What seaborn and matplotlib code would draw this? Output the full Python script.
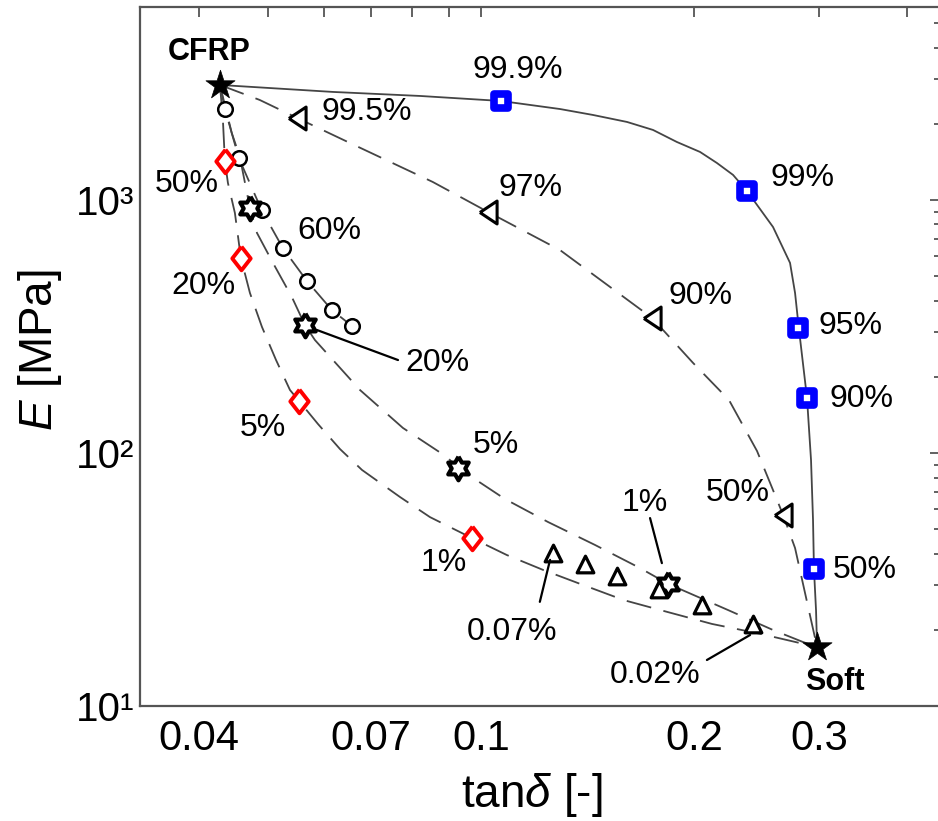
import numpy as np
import matplotlib
matplotlib.use("Agg")
import matplotlib.pyplot as plt
import seaborn as sns
from matplotlib.ticker import FixedLocator, NullLocator, LogLocator, FixedFormatter, NullFormatter

# ---------------- data ----------------
end_x = [0.0428, 0.2983]           # CFRP, Soft
end_y = [2848, 17.1]
end_lab = ["CFRP", "Soft"]

# solid curve with blue squares
solid_x = [0.0428, 0.0618, 0.0820, 0.1067, 0.1293, 0.1439, 0.1608, 0.1750, 0.1891,
           0.2039, 0.2154, 0.2270, 0.2375, 0.2585, 0.2732, 0.2777, 0.2810, 0.2887,
           0.2925, 0.2944, 0.2953, 0.2973, 0.2983]
solid_y = [2848, 2673, 2577, 2462, 2288, 2168, 2034, 1891, 1695,
           1548, 1400, 1256, 1085, 782, 564, 429, 315, 165,
           93.8, 54.4, 34.8, 23.9, 17.1]
sq_x = [0.1067, 0.2375, 0.2804, 0.2887, 0.2953]
sq_y = [2462, 1085, 312, 165, 34.8]
sq_lab = ["99.9%", "99%", "95%", "90%", "50%"]

# dashed curve with left triangles
ltri_cx = [0.0428, 0.0487, 0.0550, 0.0653, 0.0855, 0.1023, 0.1293, 0.1744, 0.1993,
           0.2240, 0.2454, 0.2602, 0.2671, 0.2777, 0.2887, 0.2983]
ltri_cy = [2848, 2485, 2110, 1680, 1178, 897, 634, 342, 227,
           162, 101.8, 68.2, 56.9, 42.1, 25.8, 17.1]
ltri_x = [0.0550, 0.1023, 0.1744, 0.2671]
ltri_y = [2110, 897, 342, 56.9]
ltri_lab = ["99.5%", "97%", "90%", "50%"]

# dashed curve with circles
circ_x = [0.0435, 0.0455, 0.0490, 0.0525, 0.0568, 0.0616, 0.0657]
circ_y = [2288, 1466, 913, 646, 478, 367, 318]
circ_lab = ["60%"]

# dashed curve with six-pointed stars
hex_cx = [0.0428, 0.04447, 0.04566, 0.04718, 0.04827, 0.05085, 0.05408, 0.05642,
          0.05828, 0.06748, 0.07759, 0.08953, 0.09279, 0.1081, 0.1243, 0.1449,
          0.1677, 0.1837, 0.2233, 0.2585, 0.2850, 0.2983]
hex_cy = [2848, 1840, 1479, 930, 741, 564, 413, 320.6,
          279.6, 177.4, 125.6, 96.4, 87.3, 65.8, 53.4, 43.3,
          35.1, 30.4, 23.95, 19.97, 17.9, 17.1]
hex_x = [0.0472, 0.0564, 0.0928, 0.1837]
hex_y = [930, 321, 87.3, 30.4]
hex_lab = ["20%", "5%", "1%"]

# dashed curve with red diamonds
dia_cx = [0.0428, 0.04321, 0.04349, 0.04392, 0.04493, 0.04581, 0.04718, 0.04906,
          0.05136, 0.05374, 0.05534, 0.05886, 0.06322, 0.06792, 0.07685, 0.08472,
          0.09712, 0.1088, 0.1224, 0.1380, 0.1592, 0.1837, 0.2120, 0.2478, 0.2983]
dia_cy = [2848, 2071, 1426, 1168, 888, 590, 429, 315,
          233, 177.4, 160.6, 130.2, 103.7, 85.7, 67.0, 55.8,
          46.1, 39.5, 34.5, 30.4, 26.2, 23.5, 21.1, 19.3, 17.1]
dia_x = [0.0435, 0.0458, 0.0553, 0.0971]
dia_y = [1426, 590, 160.6, 46.1]
dia_lab = ["50%", "20%", "5%", "1%"]

# up triangles
utri_x = [0.1264, 0.1403, 0.1556, 0.1784, 0.2051, 0.2423]
utri_y = [40.2, 36.4, 32.7, 29.0, 25.1, 21.1]
utri_lab = ["0.07%", "0.02%"]

x_ticks = [0.04, 0.05, 0.06, 0.07, 0.08, 0.09, 0.1, 0.2, 0.3, 0.4]
x_ticklabels = ["0.04", "", "", "0.07", "", "", "0.1", "0.2", "0.3", ""]
y_ticks = [10, 100, 1000]
y_ticklabels = ["10\u00b9", "10\u00b2", "10\u00b3"]

# ---------------- style ----------------
sns.set_style("white")
plt.rcParams["font.family"] = ["Liberation Sans", "DejaVu Sans"]
plt.rcParams["mathtext.fontset"] = "custom"
plt.rcParams["mathtext.rm"] = "Liberation Sans"
plt.rcParams["mathtext.it"] = "Liberation Sans:italic"
plt.rcParams["text.color"] = "black"
plt.rcParams["axes.labelcolor"] = "black"
plt.rcParams["xtick.color"] = "black"
plt.rcParams["ytick.color"] = "black"

LINE_C = "#454545"
DASH = (0, (14, 7))

fig = plt.figure(figsize=(9.38, 8.21), dpi=100)
ax = fig.add_axes([140 / 938, 115 / 821, 800 / 938, 699 / 821])
ax.set_xscale("log")
ax.set_yscale("log")


def curve(xs, ys, ls):
    sns.lineplot(x=xs, y=ys, sort=False, estimator=None, color=LINE_C,
                 lw=1.3, linestyle=ls, ax=ax, zorder=2)


curve(solid_x, solid_y, "-")
curve(ltri_cx, ltri_cy, DASH)
curve([end_x[0]] + circ_x, [end_y[0]] + circ_y, DASH)
curve(hex_cx, hex_cy, DASH)
curve(dia_cx, dia_cy, DASH)

# marker shapes
k = np.arange(12)
ang = np.deg2rad(90 + 30 * k)
rad = np.where(k % 2 == 0, 1.0, 0.577)
hexagram = list(zip(rad * np.cos(ang), rad * np.sin(ang))) + [(0.0, 1.0)]
diamond = [(0, 1), (0.78, 0), (0, -1), (-0.78, 0), (0, 1)]
ltri = [(-0.75, 0), (0.75, 1), (0.75, -1), (-0.75, 0)]


def pts(xs, ys, marker, ms, fc, ec, lw, z=3):
    sns.scatterplot(x=xs, y=ys, marker=marker, s=ms ** 2, color=fc,
                    edgecolor=ec, linewidth=lw, ax=ax, zorder=z, legend=False)


pts(circ_x, circ_y, "o", 10.5, "white", "black", 1.8)
pts(dia_x, dia_y, diamond, 17, "white", "#ff0000", 2.8)
pts(hex_x, hex_y, hexagram, 17, "white", "black", 3.0)
pts(ltri_x, ltri_y, ltri, 16.5, "white", "black", 2.2)
pts(utri_x, utri_y, "^", 12, "white", "black", 2.3)
pts(sq_x, sq_y, "s", 10.5, "white", "#0000ff", 5.5)
pts(end_x, end_y, "*", 22, "black", "black", 0.5, z=4)

# ---------------- annotations ----------------
TXT = 23
labels = [
    ("99.9%", 0.1128, 3265), ("99.5%", 0.06902, 2228), ("97%", 0.1173, 1115),
    ("99%", 0.2841, 1222), ("60%", 0.0610, 754), ("90%", 0.2045, 417),
    ("95%", 0.3331, 317.7), ("90%", 0.3452, 163.5), ("50%", 0.03844, 1157),
    ("20%", 0.04061, 457), ("5%", 0.04922, 125.6), ("1%", 0.08865, 36.7),
    ("20%", 0.08667, 227), ("5%", 0.1050, 107.5), ("1%", 0.1705, 63.4),
    ("50%", 0.2307, 69.5), ("50%", 0.3486, 34.5), ("0.07%", 0.1106, 19.6),
    ("0.02%", 0.1762, 13.26),
]
for t, x, y in labels:
    ax.text(x, y, t, fontsize=TXT, ha="center", va="center", color="black", zorder=5)

ax.text(0.04128, 3846, end_lab[0], fontsize=22, fontweight="bold", ha="center",
        va="center", color="black")
ax.text(0.3162, 12.44, end_lab[1], fontsize=22, fontweight="bold", ha="center",
        va="center", color="black")

leaders = [
    ([0.05865, 0.07636], [306.3, 233]),
    ([0.1801, 0.1733], [36.7, 55.3]),
    ([0.1252, 0.1211], [37.8, 25.8]),
    ([0.2399, 0.2085], [19.08, 15.2]),
]
for lx, ly in leaders:
    ax.plot(lx, ly, color="black", lw=1.6, zorder=5)

# ---------------- axes ----------------
ax.set_xlim(0.0330, 0.4449)
ax.set_ylim(10, 5790)
ax.xaxis.set_major_locator(FixedLocator(x_ticks))
ax.xaxis.set_major_formatter(FixedFormatter(x_ticklabels))
ax.xaxis.set_minor_locator(NullLocator())
ax.yaxis.set_major_locator(FixedLocator(y_ticks))
ax.yaxis.set_major_formatter(FixedFormatter(y_ticklabels))
ax.yaxis.set_minor_locator(LogLocator(base=10, subs=np.arange(2, 10)))
ax.yaxis.set_minor_formatter(NullFormatter())

ax.tick_params(which="both", direction="in", top=True, right=True,
               color="#555555", width=1.3, labelcolor="black")
ax.tick_params(axis="x", which="major", length=7, labelsize=30, pad=9)
ax.tick_params(axis="y", which="major", length=7, labelsize=29, pad=4)
ax.tick_params(axis="y", which="minor", length=4)
for sp in ax.spines.values():
    sp.set_color("#555555")
    sp.set_linewidth(1.6)
ax.set_xlabel("")
ax.set_ylabel("")

fig.text(40 / 938, 1 - 350 / 821, r"$E$ [MPa]", rotation=90, fontsize=33,
         ha="center", va="center", color="black")
fig.text(532 / 938, 1 - 795 / 821, r"tan$\delta$ [-]", fontsize=33,
         ha="center", va="center", color="black")

fig.savefig("out.png", dpi=100)
